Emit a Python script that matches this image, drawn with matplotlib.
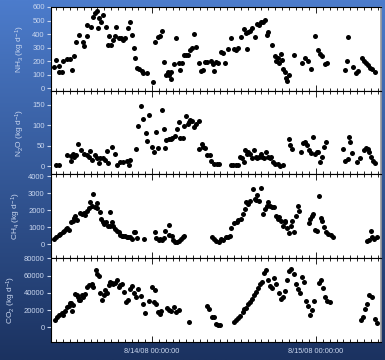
import datetime as dt

import matplotlib
matplotlib.use('Agg')
import matplotlib.pyplot as plt
import matplotlib.dates as mdates
import numpy as np

# hours since 8/13/08 00:00 and daily emission values
nh3_h = [9.7, 10.0, 10.3, 10.8, 10.4, 11.0, 11.5, 12.0, 12.3, 12.6, 12.9, 13.3, 13.9, 14.0, 14.4,
         14.5, 15.0, 15.3, 15.6, 15.9, 16.2, 16.1, 16.5, 16.8, 17.2, 17.5, 17.7, 18.0, 18.2, 18.5,
         18.7, 19.2, 19.5, 19.8, 20.0, 20.4, 20.8, 21.1, 21.3, 21.5, 21.8, 22.1, 22.5, 22.7, 23.2,
         24.1, 24.4, 24.8, 25.1, 25.5, 25.7, 26.1, 26.4, 26.7, 26.3, 26.8, 27.2, 27.5, 27.9, 28.4,
         28.1, 28.6, 28.9, 29.2, 29.6, 29.9, 30.1, 30.4, 30.8, 31.2, 31.5, 31.7, 32.1, 32.6, 32.9,
         33.0, 33.4, 33.7, 34.1, 34.4, 34.7, 35.1, 35.6, 36.0, 36.3, 36.6, 37.0, 37.4, 37.7, 37.9,
         38.0, 38.3, 38.6, 39.0, 39.3, 39.6, 39.9, 40.3, 40.5, 40.8, 41.0, 41.5, 42.0, 42.2, 42.4,
         42.6, 42.8, 43.0, 43.2, 43.4, 43.6, 43.8, 44.0, 44.7, 46.0, 46.4, 46.8, 47.3, 47.9, 48.3,
         48.6, 48.9, 49.3, 49.6, 52.2, 52.5, 52.6, 53.4, 53.8, 54.1, 54.7, 55.0, 55.3, 55.6, 55.9,
         56.2, 56.6]
nh3 = [160, 209, 122, 122, 165, 200, 215, 220, 136, 238, 342, 391, 342, 311, 384,
       469, 449, 529, 558, 567, 517, 444, 493, 541, 456, 323, 384, 323, 360, 384,
       456, 375, 370, 360, 375, 444, 488, 391, 299, 226, 150, 140, 130, 114, 114,
       44, 342, 380, 388, 420, 197, 96, 96, 68, 122, 122, 182, 371, 187, 187,
       134, 245, 245, 245, 282, 300, 403, 304, 189, 129, 135, 194, 194, 200, 180,
       130, 194, 185, 267, 260, 189, 287, 371, 290, 280, 295, 376, 440, 408, 287,
       415, 425, 444, 376, 473, 469, 493, 493, 505, 396, 413, 323, 240, 200, 225,
       185, 250, 210, 140, 120, 80, 55, 100, 245, 190, 225, 205, 141, 384, 280,
       250, 240, 180, 185, 134, 202, 376, 160, 110, 130, 223, 200, 185, 170, 150,
       140, 120]

n2o_h = [9.9, 10.3, 11.5, 12.1, 12.4, 12.6, 12.9, 12.1, 13.1, 13.6, 14.0, 14.4, 14.7, 14.9, 15.2,
         15.7, 15.9, 16.2, 16.4, 16.8, 17.1, 17.4, 17.6, 18.1, 18.6, 18.9, 19.3, 19.8, 20.3, 20.6,
         20.8, 21.7, 22.0, 22.3, 22.7, 23.1, 23.3, 23.6, 24.0, 24.3, 24.6, 24.9, 25.4, 25.7, 25.9,
         26.1, 26.4, 26.7, 26.9, 27.4, 27.6, 27.9, 28.1, 28.5, 28.7, 29.0, 29.2, 29.4, 29.6, 29.8,
         30.1, 30.4, 30.8, 30.9, 31.3, 31.5, 31.8, 32.0, 32.4, 32.6, 33.0, 33.5, 33.8, 35.6, 35.9,
         36.3, 36.6, 36.9, 37.1, 37.4, 37.6, 37.9, 38.1, 38.3, 38.6, 38.9, 39.2, 39.4, 39.6, 39.9,
         40.1, 40.4, 40.6, 40.9, 41.2, 41.4, 41.7, 42.0, 42.4, 42.7, 43.2, 44.0, 44.2, 44.5, 45.8,
         46.1, 46.4, 46.7, 47.0, 47.3, 47.6, 47.8, 48.1, 48.3, 48.6, 48.9, 49.1, 49.4, 52.0, 52.3,
         52.6, 52.8, 53.0, 53.3, 54.0, 54.4, 55.0, 55.3, 55.6, 55.8, 56.1, 56.4, 56.6]
n2o = [3, 3, 27, 25, 30, 23, 28, 13, 54, 39, 31, 27, 23, 37, 15,
       27, 21, 9, 19, 19, 15, 37, 7, 47, 31, 2, 11, 11, 13, 3,
       15, 43, 98, 148, 114, 80, 61, 125, 47, 36, 84, 44, 137, 92, 44,
       63, 67, 66, 69, 74, 90, 108, 70, 70, 98, 122, 103, 108, 112, 110,
       96, 102, 110, 42, 55, 48, 45, 27, 27, 13, 6, 6, 6, 2, 3,
       4, 2, 23, 19, 11, 40, 31, 35, 31, 19, 40, 23, 19, 23, 31,
       23, 19, 35, 23, 19, 23, 11, 6, 6, 1, 3, 66, 51, 43, 35,
       56, 58, 53, 39, 32, 72, 31, 35, 35, 11, 23, 48, 58, 43, 14,
       17, 72, 58, 32, 11, 19, 39, 45, 43, 35, 23, 14, 9]

ch4_h = [9.66, 9.95, 10.3, 10.5, 10.9, 11.1, 11.4, 11.6, 11.9, 12.1, 12.4, 12.6, 12.7, 13.0, 13.4,
         13.7, 14.0, 14.2, 14.4, 14.7, 14.9, 15.2, 15.4, 15.7, 15.9, 16.0, 16.3, 16.5, 16.8, 17.0,
         17.3, 17.5, 17.9, 17.8, 18.1, 18.3, 18.6, 18.8, 19.1, 19.3, 19.6, 19.8, 20.1, 20.3, 20.5,
         20.8, 21.0, 21.3, 21.5, 21.8, 22.8, 24.4, 24.6, 25.0, 25.2, 25.4, 25.7, 25.9, 26.4, 26.5,
         26.9, 27.1, 27.4, 27.7, 28.0, 28.2, 28.5, 28.7, 32.7, 33.0, 33.4, 33.8, 34.1, 34.4,
         34.8, 35.1, 35.4, 35.6, 36.0, 36.4, 36.6, 37.0, 37.3, 37.6, 37.8, 38.1, 38.3, 38.7, 39.0,
         39.2, 39.4, 39.6, 40.0, 40.3, 40.5, 40.8, 41.0, 41.3, 41.5, 41.9, 42.1, 42.4, 42.6, 42.9,
         43.1, 43.4, 43.5, 43.8, 44.0, 44.3, 44.5, 44.8, 45.0, 45.3, 45.5, 46.9, 47.1, 47.4, 47.6,
         47.8, 48.1, 48.4, 48.7, 48.9, 49.2, 49.5, 49.8, 50.2, 50.5, 55.4, 55.7, 56.0, 56.2, 56.5,
         56.9]
ch4 = [297, 396, 535, 594, 693, 792, 891, 931, 851, 1327, 1386, 1525, 1683, 1446, 1841,
       1782, 1822, 1723, 1980, 2119, 2475, 2237, 2970, 2178, 2119, 2416, 1921, 1485, 1327, 1188,
       1287, 1089, 1881, 1050, 1287, 1050, 891, 752, 693, 554, 495, 495, 495, 436, 396,
       396, 297, 693, 693, 356, 297, 693, 356, 257, 297, 257, 356, 792, 1148, 554,
       495, 257, 139, 99, 198, 297, 436, 495, 396, 297, 198, 139, 297, 257,
       396, 396, 495, 931, 1247, 1327, 1446, 1485, 1782, 2079, 2475, 2376, 2515, 3227, 2633,
       2574, 2871, 2515, 3306, 1782, 2079, 2237, 2475, 2237, 2178, 2178, 1683, 1485, 1584, 1386,
       1089, 1287, 1386, 931, 653, 1089, 1386, 733, 1683, 2237, 1980, 1247, 1485, 1683, 1782,
       832, 792, 2831, 1525, 1386, 990, 733, 594, 535, 396, 198, 257, 792, 396, 297,
       396]

co2_h = [9.8, 10.1, 10.4, 10.8, 11.0, 11.3, 11.5, 11.8, 12.0, 12.1, 12.25, 12.4, 12.7, 13.0, 13.1,
         13.3, 13.5, 13.7, 13.9, 14.2, 14.5, 14.8, 15.2, 15.4, 15.8, 16.0, 16.2, 16.4, 16.6, 17.0,
         17.1, 17.4, 17.7, 17.9, 18.1, 18.3, 18.6, 18.8, 19.1, 19.3, 19.6, 19.9, 20.2, 20.5, 20.8,
         21.0, 21.3, 21.6, 21.9, 22.3, 22.6, 22.9, 23.5, 24.0, 24.3, 24.4, 24.6, 24.8, 25.1, 25.3,
         26.2, 26.5, 26.8, 27.2, 27.5, 27.9, 29.4, 32.1, 32.3, 32.7, 33.0, 33.3, 33.6, 33.9, 36.0,
         36.3, 36.6, 36.9, 37.3, 37.5, 37.8, 38.0, 38.3, 38.6, 38.9, 39.2, 39.5, 39.8, 40.1, 40.4,
         40.7, 41.0, 41.3, 41.6, 41.9, 42.2, 42.5, 42.8, 43.1, 43.4, 43.8, 44.1, 44.4, 44.7, 45.0,
         45.3, 45.6, 45.9, 46.2, 46.5, 46.8, 47.1, 47.4, 47.7, 48.4, 48.7, 49.0, 49.3, 49.6, 50.0,
         54.5, 54.8, 55.2, 55.5, 55.8, 56.2, 56.6, 56.9]
co2 = [8400, 12200, 14100, 16100, 14100, 18700, 23000, 24500, 28300, 27600, 18700, 25600, 39000, 37100, 35200,
       32200, 32200, 37100, 35200, 39000, 46700, 49400, 50500, 46700, 65900, 61200, 58900, 39800, 32200, 37100,
       42900, 39800, 48600, 52400, 51300, 50500, 51300, 55100, 46700, 48600, 50500, 40900, 29400, 31400, 44000,
       48000, 40000, 35000, 44000, 36000, 27000, 16800, 30000, 47000, 29000, 43000, 27500, 18000, 16000, 18500,
       22000, 20000, 19000, 24000, 18000, 20000, 5700, 25000, 21000, 12000, 11500, 3700, 2600, 3000, 6000,
       8000, 11000, 13000, 18000, 21000, 22000, 27000, 29000, 33000, 37000, 41000, 45000, 50000, 52000, 63000,
       66000, 55000, 48000, 45000, 57000, 50000, 40000, 33000, 35000, 42000, 55000, 65000, 68000, 62000, 50000,
       44000, 40000, 58000, 52000, 30000, 25000, 14000, 20000, 31000, 51000, 55000, 45000, 35000, 31000, 29000,
       8000, 12000, 21000, 27000, 38000, 35000, 10000, 5000]

panels = [
    (nh3_h, nh3, 'NH$_3$ (kg d$^{-1}$)', (-17, 600), np.arange(0, 601, 100)),
    (n2o_h, n2o, 'N$_2$O (kg d$^{-1}$)', (-20, 184), np.arange(0, 151, 50)),
    (ch4_h, ch4, 'CH$_4$ (kg d$^{-1}$)', (-830, 4100), np.arange(0, 4001, 1000)),
    (co2_h, co2, 'CO$_2$ (kg d$^{-1}$)', (-17000, 78500), np.arange(0, 80001, 20000)),
]

base = dt.datetime(2008, 8, 13)


def to_dates(hours):
    return [base + dt.timedelta(hours=h) for h in hours]


def date_fmt(x, pos=None):
    d = mdates.num2date(x)
    return '%d/%d/%02d %s' % (d.month, d.day, d.year % 100, d.strftime('%H:%M:%S'))


plt.rcParams['font.family'] = ['Liberation Sans', 'DejaVu Sans']
plt.rcParams['mathtext.fontset'] = 'custom'
plt.rcParams['mathtext.rm'] = 'Liberation Sans'
plt.rcParams['mathtext.it'] = 'Liberation Sans'

light = '#c9d6ee'

fig = plt.figure(figsize=(3.85, 3.6), dpi=100)

# blue gradient background
bg = fig.add_axes([0, 0, 1, 1], zorder=-10)
top_c = np.array([76, 124, 204]) / 255
bot_c = np.array([27, 50, 96]) / 255
t = np.linspace(0, 1, 256)[:, None]
grad = top_c * (1 - t[..., None]) + bot_c * t[..., None]
bg.imshow(grad, aspect='auto', extent=[0, 1, 0, 1])
bg.axis('off')

axes = fig.subplots(4, 1, sharex=True,
                    gridspec_kw=dict(left=0.1325, right=0.9896, top=0.9806, bottom=0.05, hspace=0))

xmin = base + dt.timedelta(hours=9.2)
xmax = base + dt.timedelta(hours=57.5)

for ax, (hrs, vals, label, ylim, yt) in zip(axes, panels):
    ax.set_facecolor('white')
    ax.plot(to_dates(hrs), vals, 'o', color='black', ms=3.6, mew=0)
    ax.set_ylim(ylim)
    ax.set_yticks(yt)
    ax.set_xlim(xmin, xmax)
    # labels sit next to their own tick labels, like the original
    ax.set_ylabel(label, color=light, fontsize=6, labelpad=4)
    ax.tick_params(axis='y', colors=light, labelsize=5.5, length=3, width=0.8, pad=1.5)
    ax.tick_params(axis='x', which='both', direction='in', top=True, color='black', width=0.6)
    ax.tick_params(axis='x', which='major', length=4)
    ax.tick_params(axis='x', which='minor', length=2)
    ax.xaxis.set_major_locator(mdates.DayLocator())
    ax.xaxis.set_minor_locator(mdates.HourLocator())
    for s in ax.spines.values():
        s.set_color('black')
        s.set_linewidth(0.8)
    ax.spines['right'].set_color('#9a9a9a')
    ax.spines['right'].set_linewidth(1.2)

axes[-1].xaxis.set_major_formatter(plt.FuncFormatter(date_fmt))
axes[-1].tick_params(axis='x', labelsize=5.3, labelcolor=light, pad=4)

fig.savefig('out.png', dpi=100, facecolor=fig.get_facecolor())
